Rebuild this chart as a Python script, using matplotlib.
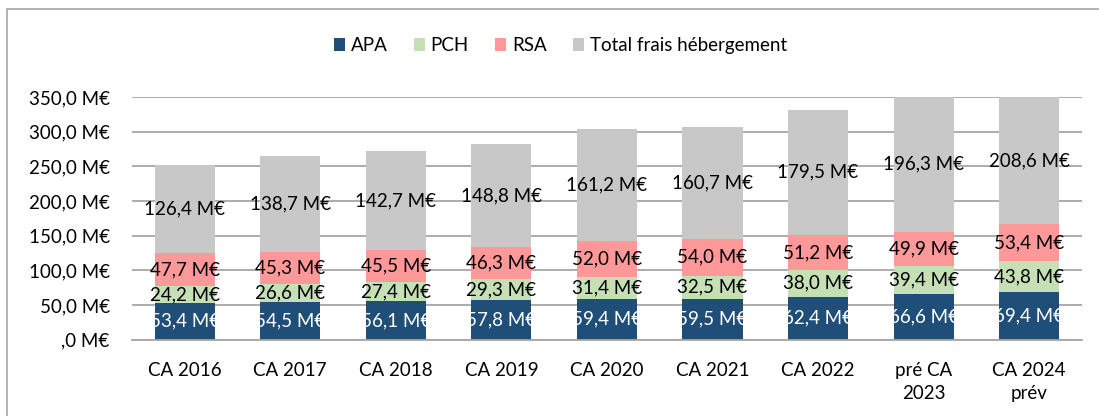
import numpy as np
import matplotlib.pyplot as plt
from matplotlib.patches import Rectangle

plt.rcParams['font.family'] = ['Lato', 'DejaVu Sans']

categories = ['CA 2016', 'CA 2017', 'CA 2018', 'CA 2019', 'CA 2020',
              'CA 2021', 'CA 2022', 'pré CA\n2023', 'CA 2024\nprév']
apa = [53.4, 54.5, 56.1, 57.8, 59.4, 59.5, 62.4, 66.6, 69.4]
pch = [24.2, 26.6, 27.4, 29.3, 31.4, 32.5, 38.0, 39.4, 43.8]
rsa = [47.7, 45.3, 45.5, 46.3, 52.0, 54.0, 51.2, 49.9, 53.4]
hebergement = [126.4, 138.7, 142.7, 148.8, 161.2, 160.7, 179.5, 196.3, 208.6]

series = [('APA', apa, '#1f4e79', 'white'),
          ('PCH', pch, '#c5e0b4', 'black'),
          ('RSA', rsa, '#ff9999', 'black'),
          ('Total frais hébergement', hebergement, '#c8c8c8', 'black')]

YMAX = 350

def fmt(v):
    return f"{v:.1f}".replace('.', ',') + ' M€'

fig = plt.figure(figsize=(10.99, 4.16), dpi=100)
fig.patches.append(Rectangle((0.006, -0.1), 1.1, 1.078, transform=fig.transFigure,
                             fill=False, edgecolor='#a6a6a6', linewidth=1.2))
ax = fig.add_axes([0.120, 0.183, 0.8645, 0.584])

x = np.arange(len(categories))
bottom = np.zeros(len(categories))
for name, vals, color, tcol in series:
    vals = np.array(vals)
    ax.bar(x, vals, 0.57, bottom=bottom, color=color, label=name, zorder=2)
    for xi, b, v in zip(x, bottom, vals):
        top = min(b + v, YMAX)
        ax.text(xi, (b + top) / 2, fmt(v), ha='center', va='center',
                color=tcol, fontsize=13.5, zorder=3)
    bottom += vals

ax.set_ylim(0, YMAX)
ax.set_xlim(-0.5, len(categories) - 0.5)
ticks = np.arange(0, 351, 50)
ax.set_yticks(ticks)
ax.set_yticklabels([fmt(t) if t else ',0 M€' for t in ticks])
ax.set_xticks(x)
ax.set_xticklabels(categories, linespacing=1.45)
ax.tick_params(axis='both', length=0, labelsize=13.5)
ax.tick_params(axis='x', pad=16)
ax.tick_params(axis='y', pad=16)
ax.grid(axis='y', color='#a6a6a6', linewidth=1.3, zorder=1)
for s in ['top', 'right', 'left']:
    ax.spines[s].set_visible(False)
ax.spines['bottom'].set_color('#a6a6a6')
ax.spines['bottom'].set_linewidth(1.3)

fig.legend(loc='center', bbox_to_anchor=(0.51, 0.89), ncol=4, frameon=False,
           fontsize=13.5, handlelength=0.6, handleheight=0.7, handletextpad=0.3,
           columnspacing=1.4)

fig.savefig('out.png', dpi=100)
